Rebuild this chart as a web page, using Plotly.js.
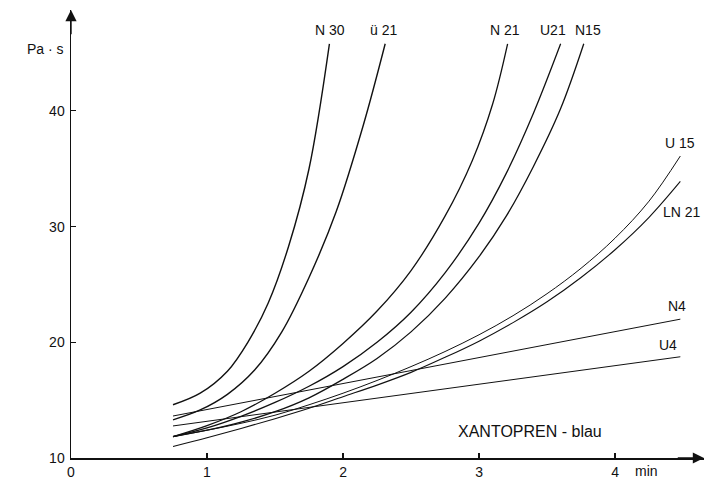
<!DOCTYPE html>
<html>
<head>
<meta charset="utf-8">
<script src="https://cdn.plot.ly/plotly-3.0.1.min.js"></script>
<style>html,body{margin:0;padding:0;background:#fff;}#chart{width:708px;height:481px;}</style>
</head>
<body>
<div id="chart"></div>
<script>
// Data (time in min, viscosity in Pa·s)
const n30X  = [0.75, 0.95, 1.15, 1.3, 1.45, 1.6, 1.75, 1.9];
const n30Y  = [14.6, 15.6, 17.5, 20.0, 23.4, 28.3, 35.0, 45.8];

const ue21X = [0.75, 0.95, 1.15, 1.35, 1.55, 1.75, 1.95, 2.15, 2.31];
const ue21Y = [13.3, 14.15, 15.5, 17.6, 20.9, 25.6, 31.3, 38.8, 45.8];

const n21X  = [0.75, 1.0, 1.25, 1.5, 1.75, 2.0, 2.25, 2.5, 2.75, 2.95, 3.1, 3.21];
const n21Y  = [11.85, 12.8, 14.0, 15.6, 17.5, 19.9, 22.7, 26.2, 30.9, 35.7, 40.6, 45.8];

const u21X  = [0.75, 1.0, 1.25, 1.5, 1.75, 2.0, 2.25, 2.5, 2.75, 3.0, 3.2, 3.4, 3.6];
const u21Y  = [11.85, 12.6, 13.6, 14.8, 16.2, 17.9, 20.0, 22.6, 26.0, 30.3, 34.6, 39.8, 45.8];

const n15X  = [0.75, 1.0, 1.25, 1.5, 1.75, 2.0, 2.25, 2.5, 2.75, 3.0, 3.2, 3.4, 3.6, 3.77];
const n15Y  = [11.85, 12.4, 13.1, 14.0, 15.2, 16.8, 18.6, 20.9, 23.8, 27.4, 30.9, 35.2, 40.2, 45.8];

const u15X  = [0.75, 1.0, 1.25, 1.5, 1.75, 2.0, 2.25, 2.5, 2.75, 3.0, 3.25, 3.5, 3.75, 4.0, 4.25, 4.48];
const u15Y  = [11.85, 12.4, 13.0, 13.7, 14.6, 15.6, 16.7, 17.9, 19.2, 20.65, 22.3, 24.2, 26.4, 29.0, 32.2, 36.1];

const ln21X = [0.75, 1.0, 1.25, 1.5, 1.75, 2.0, 2.25, 2.5, 2.75, 3.0, 3.25, 3.5, 3.75, 4.0, 4.25, 4.48];
const ln21Y = [11.0, 11.75, 12.55, 13.4, 14.3, 15.3, 16.3, 17.4, 18.7, 20.1, 21.7, 23.5, 25.6, 28.0, 30.8, 33.9];

const n4X   = [0.75, 4.48];
const n4Y   = [13.63, 22.0];

const u4X   = [0.75, 4.48];
const u4Y   = [12.77, 18.75];

const xTicks = [0, 1, 2, 3, 4];
const yTicks = [10, 20, 30, 40];

const series = [
  {name: 'N 30', x: n30X, y: n30Y, w: 1.4},
  {name: 'ü 21', x: ue21X, y: ue21Y, w: 1.4},
  {name: 'N 21', x: n21X, y: n21Y, w: 1.3},
  {name: 'U21', x: u21X, y: u21Y, w: 1.3},
  {name: 'N15', x: n15X, y: n15Y, w: 1.3},
  {name: 'U 15', x: u15X, y: u15Y, w: 1.0},
  {name: 'LN 21', x: ln21X, y: ln21Y, w: 1.1},
  {name: 'N4', x: n4X, y: n4Y, w: 1.0},
  {name: 'U4', x: u4X, y: u4Y, w: 1.0}
];

const traces = series.map(s => ({
  type: 'scatter', mode: 'lines', name: s.name, x: s.x, y: s.y,
  line: {color: '#111', width: s.w, shape: 'spline', smoothing: 1.0},
  hoverinfo: 'skip'
}));

const fam = 'Liberation Sans, Arial, sans-serif';
const font = {family: fam, size: 14, color: '#111'};
const bigFont = {family: fam, size: 16, color: '#111'};

function lbl(text, x, y, f) {
  return {text: text, x: x, y: y, xref: 'x', yref: 'y', showarrow: false,
    font: f || font, xanchor: 'center', yanchor: 'middle'};
}
function plbl(text, x, y) {
  return {text: text, x: x, y: y, xref: 'paper', yref: 'paper', showarrow: false,
    font: font, xanchor: 'center', yanchor: 'middle'};
}

const annotations = [
  lbl('N 30', 1.904, 46.99),
  lbl('ü 21', 2.296, 46.99),
  lbl('N 21', 3.19, 46.99),
  lbl('U21', 3.546, 46.99),
  lbl('N15', 3.804, 46.99),
  lbl('U 15', 4.478, 37.2),
  lbl('LN 21', 4.49, 31.3),
  lbl('N4', 4.455, 23.14),
  lbl('U4', 4.39, 19.77),
  lbl('XANTOPREN - blau', 3.375, 12.25, bigFont),
  plbl('min', 0.9095, -0.030),
  plbl('Pa · s', -0.041, 0.913),
  // axis arrows
  {x: 4.654, y: 10, ax: 4.45, ay: 10, xref: 'x', yref: 'y', axref: 'x', ayref: 'y',
   text: '', showarrow: true, arrowhead: 2, arrowsize: 1.6, arrowwidth: 1.4, arrowcolor: '#111', standoff: 0},
  {x: 0, y: 48.72, ax: 0, ay: 46.5, xref: 'x', yref: 'y', axref: 'x', ayref: 'y',
   text: '', showarrow: true, arrowhead: 2, arrowsize: 1.6, arrowwidth: 1.4, arrowcolor: '#111', standoff: 0}
];

const layout = {
  width: 708, height: 481,
  margin: {l: 71, r: 4, t: 10, b: 23},
  paper_bgcolor: '#fff', plot_bgcolor: '#fff',
  showlegend: false,
  font: font,
  xaxis: {
    range: [0, 4.654], showgrid: false, zeroline: false,
    showline: true, linecolor: '#111', linewidth: 1.5,
    tickmode: 'array', tickvals: xTicks, ticktext: xTicks.map(String),
    ticks: 'inside', ticklen: 5, tickwidth: 1.2, tickcolor: '#111',
    ticklabelstandoff: 1, tickfont: font, fixedrange: true
  },
  yaxis: {
    range: [10, 48.72], showgrid: false, zeroline: false,
    showline: true, linecolor: '#111', linewidth: 1.5,
    tickmode: 'array', tickvals: yTicks, ticktext: yTicks.map(String),
    ticks: 'inside', ticklen: 5, tickwidth: 1.2, tickcolor: '#111',
    ticklabelstandoff: 2, tickfont: font, fixedrange: true
  },
  annotations: annotations
};

Plotly.newPlot('chart', traces, layout, {staticPlot: true, displayModeBar: false});
</script>
</body>
</html>
